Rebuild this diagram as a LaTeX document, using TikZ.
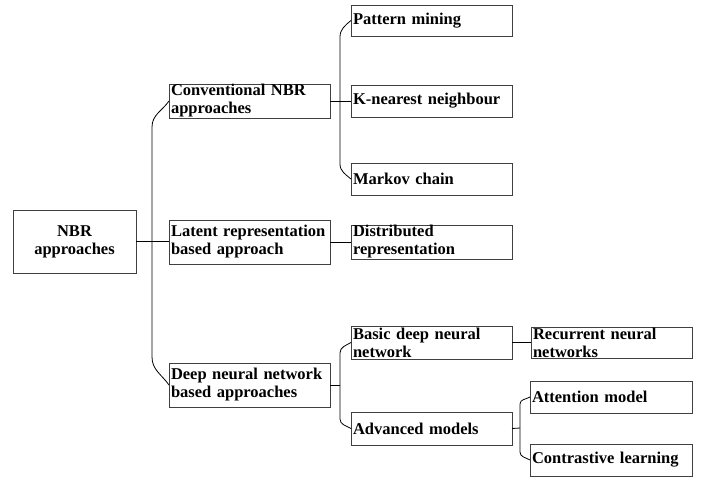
\documentclass[tikz,border=0pt]{standalone}
\usepackage{fontspec}
\setmainfont{Liberation Serif}
\begin{document}
\begin{tikzpicture}[x=1pt,y=-1pt,
  box/.style={draw=black!75, line width=0.8pt, rectangle, anchor=north west, inner xsep=2pt, inner ysep=0pt, outer sep=0pt, align=left, font=\fontsize{16.5}{18}\selectfont\bfseries},
  link/.style={line width=0.8pt, black}]
\useasboundingbox (0,0) rectangle (708,479);
\node[box, minimum width=123, minimum height=63, text width=119, align=center] (root) at (13,210) {NBR\\approaches};
\node[box, minimum width=161, minimum height=34, text width=157] (conv) at (169,84) {Conventional NBR\\approaches};
\node[box, minimum width=161, minimum height=44, text width=157] (latent) at (169,220) {Latent representation\\based approach};
\node[box, minimum width=161, minimum height=44, text width=157] (deep) at (169,363) {Deep neural network\\based approaches};
\node[box, minimum width=161, minimum height=31, text width=157] (pattern) at (351,5) {Pattern mining};
\node[box, minimum width=161, minimum height=32, text width=157] (knn) at (351,85) {K-nearest neighbour};
\node[box, minimum width=161, minimum height=32, text width=157] (markov) at (351,163) {Markov chain};
\node[box, minimum width=161, minimum height=34, text width=157] (distr) at (351,225) {Distributed\\representation};
\node[box, minimum width=161, minimum height=33, text width=157] (basic) at (351,326) {Basic deep neural\\network};
\node[box, minimum width=161, minimum height=33, text width=157] (adv) at (351,412) {Advanced models};
\node[box, minimum width=161, minimum height=31, text width=157] (rnn) at (531,327) {Recurrent neural\\networks};
\node[box, minimum width=162, minimum height=32, text width=158] (att) at (530,381) {Attention model};
\node[box, minimum width=162, minimum height=32, text width=158] (contr) at (530,444) {Contrastive learning};
% root bracket
\coordinate (r1) at (152,127);
\coordinate (r2) at (152,357);
\draw[link] (conv.west) to[out=235,in=90] (r1) -- (r2) to[out=-90,in=125] (deep.west);
\draw[link] (root.east) -- (root.east -| latent.west);
% conventional bracket
\coordinate (c1) at (340,37);
\coordinate (c2) at (340,164);
\draw[link] (pattern.west) to[out=220,in=90] (c1) -- (c2) to[out=-90,in=140] (markov.west);
\draw[link] (conv.east) -- (knn.west);
% latent
\draw[link] (latent.west -| latent.east) -- (distr.west);
% deep bracket
\coordinate (d0) at (340,385);
\coordinate (d1) at (340,353);
\coordinate (d2) at (340,419);
\draw[link] (basic.west) to[out=210,in=90] (d1) -- (d2) to[out=-90,in=150] (adv.west);
\draw[link] (deep.east) -- (d0);
% basic -> rnn
\draw[link] (basic.east) -- (rnn.west);
% advanced bracket
\coordinate (a0) at (520,428);
\coordinate (a1) at (520,404);
\coordinate (a2) at (520,452);
\draw[link] (att.west) to[out=210,in=90] (a1) -- (a2) to[out=-90,in=150] (contr.west);
\draw[link] (adv.east) -- (a0);
\end{tikzpicture}
\end{document}
